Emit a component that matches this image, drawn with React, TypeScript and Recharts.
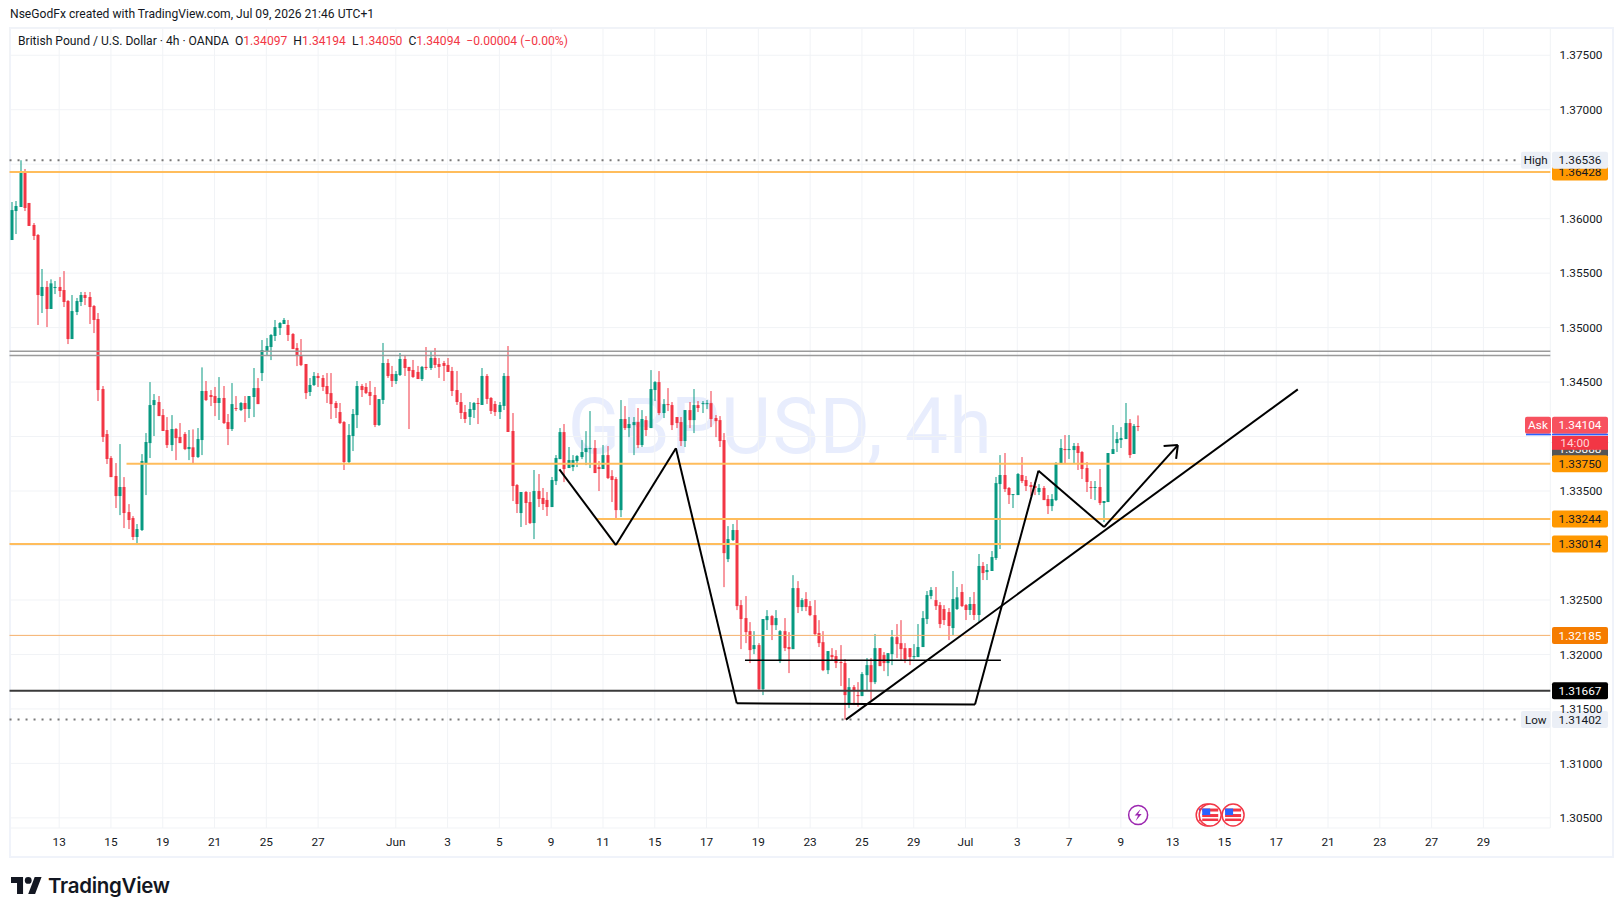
import React from "react";
import { ComposedChart, Bar, XAxis, YAxis, CartesianGrid, ReferenceLine, ReferenceDot } from "recharts";

const mayCandles = [
[1.35804,1.36153,1.35804,1.36079],[1.36070,1.36162,1.35859,1.36116],[1.36107,1.36536,1.36107,1.36419],[1.36419,1.36456,1.36070,1.36098],
[1.36144,1.36144,1.35933,1.35933],[1.35942,1.35960,1.35804,1.35841],[1.35850,1.35859,1.35024,1.35299],[1.35290,1.35538,1.35134,1.35373],
[1.35373,1.35428,1.35005,1.35171],[1.35171,1.35443,1.35171,1.35406],[1.35363,1.35428,1.35308,1.35373],[1.35373,1.35464,1.35281,1.35336],
[1.35345,1.35519,1.35189,1.35235],[1.35244,1.35253,1.34849,1.34895],[1.34895,1.35299,1.34895,1.35152],[1.35143,1.35272,1.35115,1.35244],
[1.35235,1.35327,1.35198,1.35299],[1.35299,1.35327,1.35207,1.35272],[1.35281,1.35327,1.35033,1.35189],[1.35198,1.35207,1.34950,1.35070],
[1.35079,1.35134,1.34326,1.34427],[1.34436,1.34464,1.33950,1.33996],[1.34023,1.34060,1.33748,1.33794],[1.33803,1.33821,1.33628,1.33628],
[1.33638,1.33757,1.33344,1.33454],[1.33454,1.33931,1.33279,1.33537],[1.33537,1.33628,1.33160,1.33298],[1.33307,1.33380,1.33151,1.33234],
[1.33252,1.33270,1.33050,1.33078],[1.33078,1.33197,1.33020,1.33151],[1.33142,1.33839,1.33133,1.33775],[1.33757,1.34032,1.33463,1.33950],
[1.33940,1.34500,1.33803,1.34289],[1.34289,1.34390,1.34005,1.34335],[1.34317,1.34372,1.34188,1.34188],[1.34197,1.34253,1.34051,1.34051],
[1.34060,1.34179,1.33895,1.33922],[1.33922,1.34197,1.33867,1.34069],[1.34069,1.34078,1.33784,1.33986],[1.33996,1.34124,1.33940,1.33940],
[1.34023,1.34041,1.33876,1.33885],[1.33885,1.34060,1.33784,1.33904],[1.33901,1.34066,1.33748,1.33812],[1.33812,1.34078,1.33803,1.33977],
[1.33968,1.34635,1.33830,1.34418],[1.34418,1.34510,1.34326,1.34335],[1.34381,1.34427,1.34280,1.34363],[1.34372,1.34455,1.34188,1.34308],
[1.34308,1.34546,1.34152,1.34354],[1.34354,1.34464,1.34115,1.34124],[1.34133,1.34207,1.33922,1.34069],[1.34069,1.34491,1.34051,1.34298],
[1.34262,1.34372,1.34234,1.34253],[1.34243,1.34317,1.34234,1.34308],[1.34308,1.34372,1.34133,1.34253],[1.34253,1.34372,1.34170,1.34372],
[1.34363,1.34629,1.34179,1.34445],[1.34445,1.34537,1.34298,1.34298],[1.34583,1.34886,1.34510,1.34794],[1.34785,1.34904,1.34739,1.34831],
[1.34822,1.34941,1.34702,1.34932],[1.34923,1.35070,1.34877,1.35005],[1.34996,1.35051,1.34932,1.35042],[1.35033,1.35088,1.35033,1.35070],
[1.35024,1.35070,1.34877,1.34932],[1.34941,1.34950,1.34803,1.34803],[1.34813,1.34858,1.34647,1.34739],[1.34748,1.34895,1.34647,1.34656],
[1.34666,1.34666,1.34344,1.34399],[1.34409,1.34537,1.34372,1.34473],[1.34473,1.34592,1.34464,1.34556],[1.34556,1.34583,1.34455,1.34537],
[1.34537,1.34565,1.34418,1.34455],[1.34464,1.34583,1.34308,1.34390],[1.34399,1.34583,1.34161,1.34298],[1.34308,1.34326,1.34170,1.34262],
[1.34225,1.34308,1.34115,1.34124],[1.34133,1.34142,1.33693,1.33766],[1.33766,1.34115,1.33757,1.34014],[1.34005,1.34253,1.33867,1.34207],
[1.34197,1.34510,1.34078,1.34464],[1.34464,1.34482,1.34363,1.34427],[1.34455,1.34491,1.34390,1.34399],[1.34409,1.34510,1.34289,1.34372],
[1.34381,1.34455,1.34087,1.34106],[1.34106,1.34344,1.34097,1.34344],[1.34336,1.34859,1.34299,1.34675],[1.34675,1.34712,1.34538,1.34556],
[1.34574,1.34648,1.34455,1.34510],
];

const juneCandles = [
[1.34510,1.34602,1.34482,1.34574],[1.34565,1.34767,1.34556,1.34712],[1.34712,1.34749,1.34556,1.34629],[1.34639,1.34639,1.34069,1.34602],
[1.34611,1.34703,1.34538,1.34547],[1.34593,1.34648,1.34528,1.34528],[1.34528,1.34648,1.34510,1.34639],[1.34639,1.34822,1.34611,1.34629],
[1.34629,1.34776,1.34611,1.34721],[1.34721,1.34813,1.34629,1.34657],[1.34666,1.34721,1.34538,1.34639],[1.34675,1.34694,1.34510,1.34648],
[1.34657,1.34721,1.34593,1.34593],[1.34602,1.34639,1.34372,1.34418],[1.34427,1.34602,1.34290,1.34317],[1.34317,1.34400,1.34161,1.34216],
[1.34225,1.34290,1.34124,1.34161],[1.34180,1.34317,1.34106,1.34253],[1.34244,1.34317,1.34170,1.34308],[1.34308,1.34354,1.34115,1.34299],
[1.34290,1.34629,1.34290,1.34556],[1.34556,1.34574,1.34299,1.34345],[1.34354,1.34363,1.34207,1.34235],[1.34299,1.34326,1.34189,1.34225],
[1.34225,1.34317,1.34161,1.34290],[1.34281,1.34583,1.34244,1.34556],[1.34556,1.34831,1.34042,1.34042],[1.34051,1.34216,1.33408,1.33546],
[1.33555,1.33564,1.33298,1.33381],[1.33298,1.33491,1.33170,1.33491],[1.33491,1.33500,1.33188,1.33390],[1.33399,1.33491,1.33197,1.33206],
[1.33206,1.33693,1.33059,1.33500],[1.33500,1.33656,1.33353,1.33427],[1.33436,1.33528,1.33326,1.33381],[1.33418,1.33491,1.33271,1.33353],
[1.33353,1.33629,1.33353,1.33601],[1.33591,1.33830,1.33555,1.33803],[1.33793,1.34078,1.33793,1.34041],[1.34041,1.34115,1.33582,1.33702],
[1.33711,1.33904,1.33711,1.33784],[1.33720,1.33830,1.33683,1.33784],[1.33775,1.33830,1.33720,1.33821],[1.33812,1.33968,1.33793,1.33858],
[1.33858,1.34050,1.33738,1.33894],[1.33885,1.34234,1.33711,1.33894],[1.33894,1.33968,1.33665,1.33665],[1.33720,1.33775,1.33500,1.33702],
[1.33702,1.33922,1.33702,1.33830],[1.33830,1.33913,1.33610,1.33619],[1.33637,1.33692,1.33399,1.33601],[1.33610,1.33628,1.33243,1.33325],
[1.33325,1.34335,1.33261,1.34161],[1.34161,1.34280,1.34060,1.34078],[1.34078,1.34179,1.33995,1.34115],[1.34105,1.34179,1.33830,1.34133],
[1.34133,1.34262,1.33894,1.33922],[1.33922,1.34243,1.33904,1.34161],[1.34151,1.34188,1.34005,1.34060],[1.34078,1.34610,1.34078,1.34436],
[1.34427,1.34509,1.34326,1.34500],[1.34500,1.34601,1.34197,1.34216],[1.34216,1.34344,1.34170,1.34298],[1.34298,1.34445,1.34234,1.34289],
[1.34289,1.34317,1.34060,1.34105],[1.34179,1.34179,1.34078,1.34124],[1.34133,1.34179,1.33913,1.33959],[1.33959,1.34243,1.33904,1.34243],
[1.34243,1.34317,1.34078,1.34151],[1.34151,1.34436,1.34032,1.34289],[1.34289,1.34326,1.34225,1.34262],[1.34298,1.34326,1.34216,1.34307],
[1.34298,1.34335,1.34252,1.34307],[1.34307,1.34418,1.34087,1.34161],[1.34170,1.34197,1.33995,1.34142],[1.34151,1.34188,1.33904,1.33959],
[1.33968,1.34032,1.32618,1.32930],[1.32875,1.33178,1.32848,1.33059],[1.33050,1.33197,1.33041,1.33142],[1.33142,1.33252,1.32407,1.32444],
[1.32453,1.32499,1.32049,1.32325],[1.32334,1.32536,1.32104,1.32205],[1.32214,1.32297,1.31921,1.32040],[1.32049,1.32214,1.32003,1.32086],
[1.32086,1.32104,1.31673,1.31682],[1.31682,1.32325,1.31627,1.32325],[1.32315,1.32407,1.32224,1.32352],[1.32352,1.32361,1.32132,1.32269],
[1.32269,1.32407,1.32224,1.32334],[1.31939,1.32224,1.31921,1.32214],[1.32214,1.32334,1.32031,1.32058],[1.32068,1.32205,1.31829,1.32049],
[1.32049,1.32728,1.32049,1.32609],[1.32609,1.32673,1.32380,1.32435],[1.32435,1.32517,1.32398,1.32499],[1.32508,1.32572,1.32398,1.32435],
[1.32444,1.32490,1.32352,1.32361],[1.32361,1.32499,1.32169,1.32187],[1.32196,1.32315,1.32068,1.32104],[1.32113,1.32214,1.31847,1.31856],
[1.31856,1.32031,1.31820,1.32031],[1.31994,1.32058,1.31948,1.31976],[1.31985,1.32040,1.31875,1.31921],[1.31930,1.32086,1.31710,1.31921],
[1.31921,1.31957,1.31402,1.31627],[1.31554,1.31783,1.31508,1.31700],[1.31700,1.31719,1.31535,1.31664],[1.31627,1.31746,1.31520,1.31618],
[1.31618,1.31838,1.31618,1.31820],[1.31810,1.31967,1.31673,1.31902],[1.31902,1.31967,1.31581,1.31746],[1.31746,1.32187,1.31728,1.32058],
[1.32058,1.32058,1.31893,1.31893],[1.31994,1.32022,1.31847,1.31921],[1.31921,1.32012,1.31801,1.32012],[1.32003,1.32224,1.31902,1.32159],
[1.32159,1.32279,1.31967,1.32095],[1.32104,1.32315,1.31948,1.32049],[1.32058,1.32104,1.31921,1.31957],[1.32058,1.32058,1.31902,1.31976],
[1.31976,1.32095,1.31957,1.31985],[1.31976,1.32279,1.31976,1.32068],[1.32068,1.32398,1.32068,1.32334],[1.32325,1.32582,1.32279,1.32545],
[1.32536,1.32618,1.32508,1.32591],[1.32499,1.32619,1.32408,1.32444],[1.32453,1.32481,1.32242,1.32279],[1.32417,1.32453,1.32270,1.32316],
[1.32389,1.32426,1.32132,1.32261],[1.32242,1.32766,1.32178,1.32509],[1.32417,1.32619,1.32408,1.32524],[1.32573,1.32646,1.32435,1.32444],
];

const julyCandles = [
[1.32453,1.32463,1.32316,1.32408],[1.32408,1.32527,1.32362,1.32463],[1.32463,1.32573,1.32316,1.32362],[1.32362,1.32922,1.32300,1.32812],
[1.32812,1.32848,1.32683,1.32747],[1.32756,1.32830,1.32683,1.32775],[1.32766,1.32949,1.32766,1.32894],[1.32885,1.33629,1.32867,1.33573],
[1.33564,1.33830,1.32968,1.33647],[1.33647,1.33849,1.33491,1.33518],[1.33528,1.33537,1.33381,1.33463],[1.33463,1.33472,1.33344,1.33472],
[1.33463,1.33665,1.33463,1.33656],[1.33647,1.33812,1.33573,1.33592],[1.33601,1.33638,1.33500,1.33546],[1.33555,1.33583,1.33454,1.33537],
[1.33546,1.33583,1.33463,1.33528],[1.33491,1.33564,1.33463,1.33528],[1.33528,1.33546,1.33417,1.33417],[1.33427,1.33463,1.33289,1.33362],
[1.33362,1.33472,1.33316,1.33427],[1.33417,1.33766,1.33408,1.33757],[1.33748,1.33977,1.33748,1.33895],[1.33886,1.34014,1.33757,1.33876],
[1.33876,1.34014,1.33794,1.33886],[1.33876,1.33941,1.33748,1.33913],[1.33913,1.33941,1.33693,1.33849],[1.33858,1.33867,1.33610,1.33702],
[1.33711,1.33766,1.33491,1.33583],[1.33537,1.33592,1.33427,1.33528],[1.33528,1.33592,1.33417,1.33537],[1.33537,1.33702,1.33371,1.33390],
[1.33390,1.33408,1.33215,1.33408],[1.33399,1.33849,1.33399,1.33849],[1.33840,1.34106,1.33840,1.33885],[1.33940,1.34041,1.33858,1.33977],
[1.33968,1.34087,1.33895,1.33986],[1.33977,1.34308,1.33977,1.34124],[1.34124,1.34161,1.33803,1.33830],[1.33840,1.34115,1.33840,1.34097],
[1.34097,1.34194,1.34050,1.34094],
];

const candles = [...mayCandles, ...juneCandles, ...julyCandles].map(([open, high, low, close], i) => ({
  i, open, high, low, close, range: [low, high],
}));

const priceTicks = [1.375, 1.37, 1.365, 1.36, 1.355, 1.35, 1.345, 1.34, 1.335, 1.33, 1.325, 1.32, 1.315, 1.31, 1.305];
const hiddenPriceLabels = [1.365, 1.34, 1.33];
const dateTickIndex = [11, 23, 35, 47, 59, 71, 89, 101, 113, 125, 137, 149, 161, 173, 185, 197, 209, 221, 233, 245, 257, 269, 281, 293, 305, 317, 329, 341];
const dateTickLabel = ["13", "15", "19", "21", "25", "27", "Jun", "3", "5", "9", "11", "15", "17", "19", "23", "25", "29", "Jul", "3", "7", "9", "13", "15", "17", "21", "23", "27", "29"];

const levelLines = [
  { from: -0.5, price: 1.36428, color: "#ffbd5c", width: 2 },
  { from: 26.6, price: 1.3375, color: "#ffbd5c", width: 2 },
  { from: 135.5, price: 1.33244, color: "#ffbd5c", width: 2 },
  { from: -0.5, price: 1.33014, color: "#ffbd5c", width: 2 },
  { from: -0.5, price: 1.32175, color: "#f5b06c", width: 1 },
  { from: -0.5, price: 1.31667, color: "#3a3a3a", width: 2 },
  { from: -0.5, price: 1.34782, color: "#9b9b9b", width: 1.5 },
  { from: -0.5, price: 1.34745, color: "#9b9b9b", width: 1.5 },
];

const patternPath = [
  { i: 126.9, p: 1.33699 }, { i: 140.0, p: 1.33004 }, { i: 153.9, p: 1.33892 }, { i: 168.0, p: 1.31551 },
  { i: 223.2, p: 1.3154 }, { i: 237.9, p: 1.33686 }, { i: 253.1, p: 1.33169 }, { i: 270.2, p: 1.33922 },
];
const arrowWings = [{ i: 266.9, p: 1.33913 }, { i: 269.8, p: 1.33794 }];
const arrowTip = { i: 270.2, p: 1.33922 };
const trendLine = [{ i: 193.3, p: 1.31402 }, { i: 298.0, p: 1.34433 }];
const shortLine = [{ i: 169.9, p: 1.31946 }, { i: 229.2, p: 1.31946 }];

const priceTags = [
  { value: 1.36428, text: "1.36428", bg: "#ff9800", fg: "#131722" },
  { value: 1.36536, text: "1.36536", bg: "#ebeff6", fg: "#131722", side: "High" },
  { value: 1.33888, text: "1.33888", bg: "#555555", fg: "#ffffff" },
  { value: 1.3375, text: "1.33750", bg: "#ff9800", fg: "#131722" },
  { value: 1.33244, text: "1.33244", bg: "#ff9800", fg: "#131722" },
  { value: 1.33014, text: "1.33014", bg: "#ff9800", fg: "#131722" },
  { value: 1.32175, text: "1.32185", bg: "#f57c00", fg: "#ffffff" },
  { value: 1.31667, text: "1.31667", bg: "#000000", fg: "#ffffff" },
  { value: 1.31402, text: "1.31402", bg: "#ebeff6", fg: "#131722", side: "Low" },
];

const events = [{ i: 261, kind: "bolt" }, { i: 277, kind: "flag" }, { i: 277.7, kind: "flag" }, { i: 283, kind: "flag" }];
const eventPrice = 1.30526;

const FONT = "Roboto, 'Noto Sans', sans-serif";
const GREEN = "#089981";
const RED = "#f23645";
const RIGHT = 356.5;

function CandleShape(props: any) {
  const { x, y, width, height, payload } = props;
  if (!payload) return null;
  const { open, high, low, close } = payload;
  const k = height / (high - low || 1);
  const toY = (v: number) => y + (high - v) * k;
  const color = close >= open ? GREEN : RED;
  const cx = Math.round(x + width / 2);
  const top = toY(Math.max(open, close));
  const bottom = toY(Math.min(open, close));
  return (
    <g>
      <rect x={cx - 0.5} y={y} width={1} height={Math.max(height, 1)} fill={color} />
      <rect x={cx - 1.5} y={top} width={3} height={Math.max(bottom - top, 1)} fill={color} />
    </g>
  );
}

function tagShape(tag: any) {
  return (props: any) => {
    const { cy } = props;
    const left = 1552;
    return (
      <g style={{ fontFamily: FONT }}>
        {tag.side ? (
          <g>
            <rect x={1521} y={cy - 8.5} width={29.5} height={17} rx={2} fill={tag.bg} />
            <text x={1535.7} y={cy + 4} textAnchor="middle" fontSize={11.6} fill={tag.fg}>{tag.side}</text>
          </g>
        ) : null}
        <rect x={left} y={cy - 8.5} width={56} height={17} rx={2} fill={tag.bg} />
        <text x={1580} y={cy + 4.2} textAnchor="middle" fontSize={11.8} fill={tag.fg}>{tag.text}</text>
      </g>
    );
  };
}

function AskTag(props: any) {
  const { cy } = props;
  return (
    <g style={{ fontFamily: FONT }}>
      <rect x={1525} y={cy - 8.5} width={26} height={17} rx={2} fill="#f7525f" />
      <rect x={1526} y={cy + 8.5} width={25} height={1.6} fill="#2962ff" />
      <text x={1538} y={cy + 4.2} textAnchor="middle" fontSize={11.8} fill="#ffffff">Ask</text>
      <rect x={1552} y={cy - 8.5} width={56} height={17} rx={2} fill="#f7525f" />
      <rect x={1552} y={cy + 8.5} width={56} height={1.6} fill="#2962ff" />
      <text x={1580} y={cy + 4.2} textAnchor="middle" fontSize={11.8} fill="#ffffff">1.34104</text>
    </g>
  );
}

function CountdownTag(props: any) {
  const { cy } = props;
  return (
    <g style={{ fontFamily: FONT }}>
      <rect x={1552} y={cy + 9.5} width={56} height={14} fill={RED} />
      <text x={1575} y={cy + 21} textAnchor="middle" fontSize={11.8} fill="#ffd5d8">14:00</text>
    </g>
  );
}

function EventMark(kind: string) {
  return (props: any) => {
    const { cx, cy } = props;
    if (kind === "bolt") {
      return (
        <g>
          <circle cx={cx} cy={cy} r={9.5} fill="#ffffff" stroke="#9c27b0" strokeWidth={1.5} />
          <path d={`M${cx + 2.5} ${cy - 6} L${cx - 3.5} ${cy + 0.5} L${cx} ${cy + 0.5} L${cx - 2.5} ${cy + 6} L${cx + 3.5} ${cy - 1} L${cx} ${cy - 1} Z`} fill="#9c27b0" />
        </g>
      );
    }
    return (
      <g>
        <circle cx={cx} cy={cy} r={11} fill="#ffffff" stroke="#f23645" strokeWidth={1.5} />
        <rect x={cx - 8} y={cy - 6.5} width={16} height={3} fill="#f23645" />
        <rect x={cx - 8} y={cy - 1} width={16} height={3} fill="#f23645" />
        <rect x={cx - 8} y={cy + 3.5} width={16} height={2.5} fill="#f23645" />
        <rect x={cx - 8} y={cy - 6.5} width={8} height={6.5} fill="#2962ff" />
      </g>
    );
  };
}

function PriceTick(props: any) {
  const { y, payload } = props;
  if (hiddenPriceLabels.includes(payload.value)) return <g />;
  return (
    <text x={1581} y={y + 4.2} textAnchor="middle" fontSize={11.8} fontFamily={FONT} fill="#131722">
      {payload.value.toFixed(5)}
    </text>
  );
}

function DateTick(props: any) {
  const { x, payload } = props;
  const label = dateTickLabel[dateTickIndex.indexOf(payload.value)];
  return (
    <text x={x} y={845.5} textAnchor="middle" fontSize={11.8} fontFamily={FONT} fill="#131722">
      {label}
    </text>
  );
}

const red = { color: RED };

export default function App() {
  return (
    <div style={{ position: "absolute", left: 0, top: 0, width: 1623, height: 916, background: "#ffffff", overflow: "hidden", fontFamily: FONT, color: "#131722" }}>
      <div style={{ position: "absolute", left: 10, top: 7, fontSize: 12.1, whiteSpace: "nowrap" }}>
        NseGodFx created with TradingView.com, Jul 09, 2026 21:46 UTC+1
      </div>
      <div style={{ position: "absolute", left: 9, top: 27, width: 1601, height: 827, border: "2px solid #f0f3fa" }} />
      <div style={{ position: "absolute", left: 18, top: 34, fontSize: 12.1, whiteSpace: "pre", zIndex: 3 }}>
        {"British Pound / U.S. Dollar · 4h · OANDA  O"}
        <span style={red}>1.34097</span>{"  H"}
        <span style={red}>1.34194</span>{"  L"}
        <span style={red}>1.34050</span>{"  C"}
        <span style={red}>1.34094</span>{"  "}
        <span style={red}>−0.00004 (−0.00%)</span>
      </div>
      <div style={{ position: "absolute", left: 10, width: 1541, top: 381, textAlign: "center", fontSize: 77, letterSpacing: 1.4, lineHeight: "92px", color: "#e8edfd", whiteSpace: "nowrap" }}>
        GBPUSD, 4h
      </div>
      <div style={{ position: "absolute", left: 0, top: 0 }}>
        <ComposedChart
          width={1623}
          height={916}
          data={candles}
          margin={{ top: 28, right: 0, bottom: 48, left: 9.54 }}
          barCategoryGap={0}
          style={{ background: "transparent" }}
        >
          <CartesianGrid stroke="#f1f3f6" strokeWidth={1} />
          <XAxis
            dataKey="i"
            type="number"
            scale="linear"
            domain={[-0.5, RIGHT]}
            ticks={dateTickIndex}
            interval={0}
            height={40}
            axisLine={false}
            tickLine={false}
            tick={DateTick}
            allowDataOverflow
          />
          <YAxis
            orientation="right"
            type="number"
            domain={[1.30407, 1.3775]}
            ticks={priceTicks}
            interval={0}
            width={72.7}
            axisLine={false}
            tickLine={false}
            tick={PriceTick}
            allowDataOverflow
          />
          <Bar dataKey="range" barSize={3} shape={CandleShape} isAnimationActive={false} />
          {levelLines.map((l) => (
            <ReferenceLine
              key={l.price}
              segment={[{ x: l.from, y: l.price }, { x: RIGHT, y: l.price }]}
              stroke={l.color}
              strokeWidth={l.width}
            />
          ))}
          <ReferenceLine segment={[{ x: -0.5, y: 1.36536 }, { x: 350, y: 1.36536 }]} stroke="#787878" strokeWidth={2} strokeDasharray="2 6" />
          <ReferenceLine segment={[{ x: -0.5, y: 1.31402 }, { x: 350, y: 1.31402 }]} stroke="#787878" strokeWidth={2} strokeDasharray="2 6" />
          {patternPath.slice(1).map((pt, n) => (
            <ReferenceLine
              key={`pattern-${n}`}
              segment={[{ x: patternPath[n].i, y: patternPath[n].p }, { x: pt.i, y: pt.p }]}
              stroke="#000000"
              strokeWidth={2}
            />
          ))}
          {arrowWings.map((w, n) => (
            <ReferenceLine key={`wing-${n}`} segment={[{ x: w.i, y: w.p }, { x: arrowTip.i, y: arrowTip.p }]} stroke="#000000" strokeWidth={2} />
          ))}
          <ReferenceLine segment={[{ x: trendLine[0].i, y: trendLine[0].p }, { x: trendLine[1].i, y: trendLine[1].p }]} stroke="#000000" strokeWidth={2} />
          <ReferenceLine segment={[{ x: shortLine[0].i, y: shortLine[0].p }, { x: shortLine[1].i, y: shortLine[1].p }]} stroke="#000000" strokeWidth={1.5} />
          {events.map((e) => (
            <ReferenceDot key={e.i} x={e.i} y={eventPrice} r={10} ifOverflow="visible" shape={EventMark(e.kind)} />
          ))}
          {priceTags.map((t) => (
            <ReferenceDot key={t.text} x={RIGHT} y={t.value} r={1} ifOverflow="visible" shape={tagShape(t)} />
          ))}
          <ReferenceDot x={RIGHT} y={1.34094} r={1} ifOverflow="visible" shape={CountdownTag} />
          <ReferenceDot x={RIGHT} y={1.34104} r={1} ifOverflow="visible" shape={AskTag} />
        </ComposedChart>
      </div>
      <div style={{ position: "absolute", left: 11, top: 877, display: "flex", alignItems: "center" }}>
        <svg width="31" height="17" viewBox="0 4 36 20" style={{ display: "block" }} preserveAspectRatio="none">
          <path d="M14 24H7V11H0V4h14v20zM28 24h-8l7.5-20h8L28 24z" fill="#131722" />
          <circle cx="20" cy="8" r="4" fill="#131722" />
        </svg>
        <span style={{ marginLeft: 6, fontFamily: "Inter, Roboto, sans-serif", fontWeight: 600, fontSize: 20.5, letterSpacing: -0.3, lineHeight: "17px", color: "#131722" }}>TradingView</span>
      </div>
    </div>
  );
}
